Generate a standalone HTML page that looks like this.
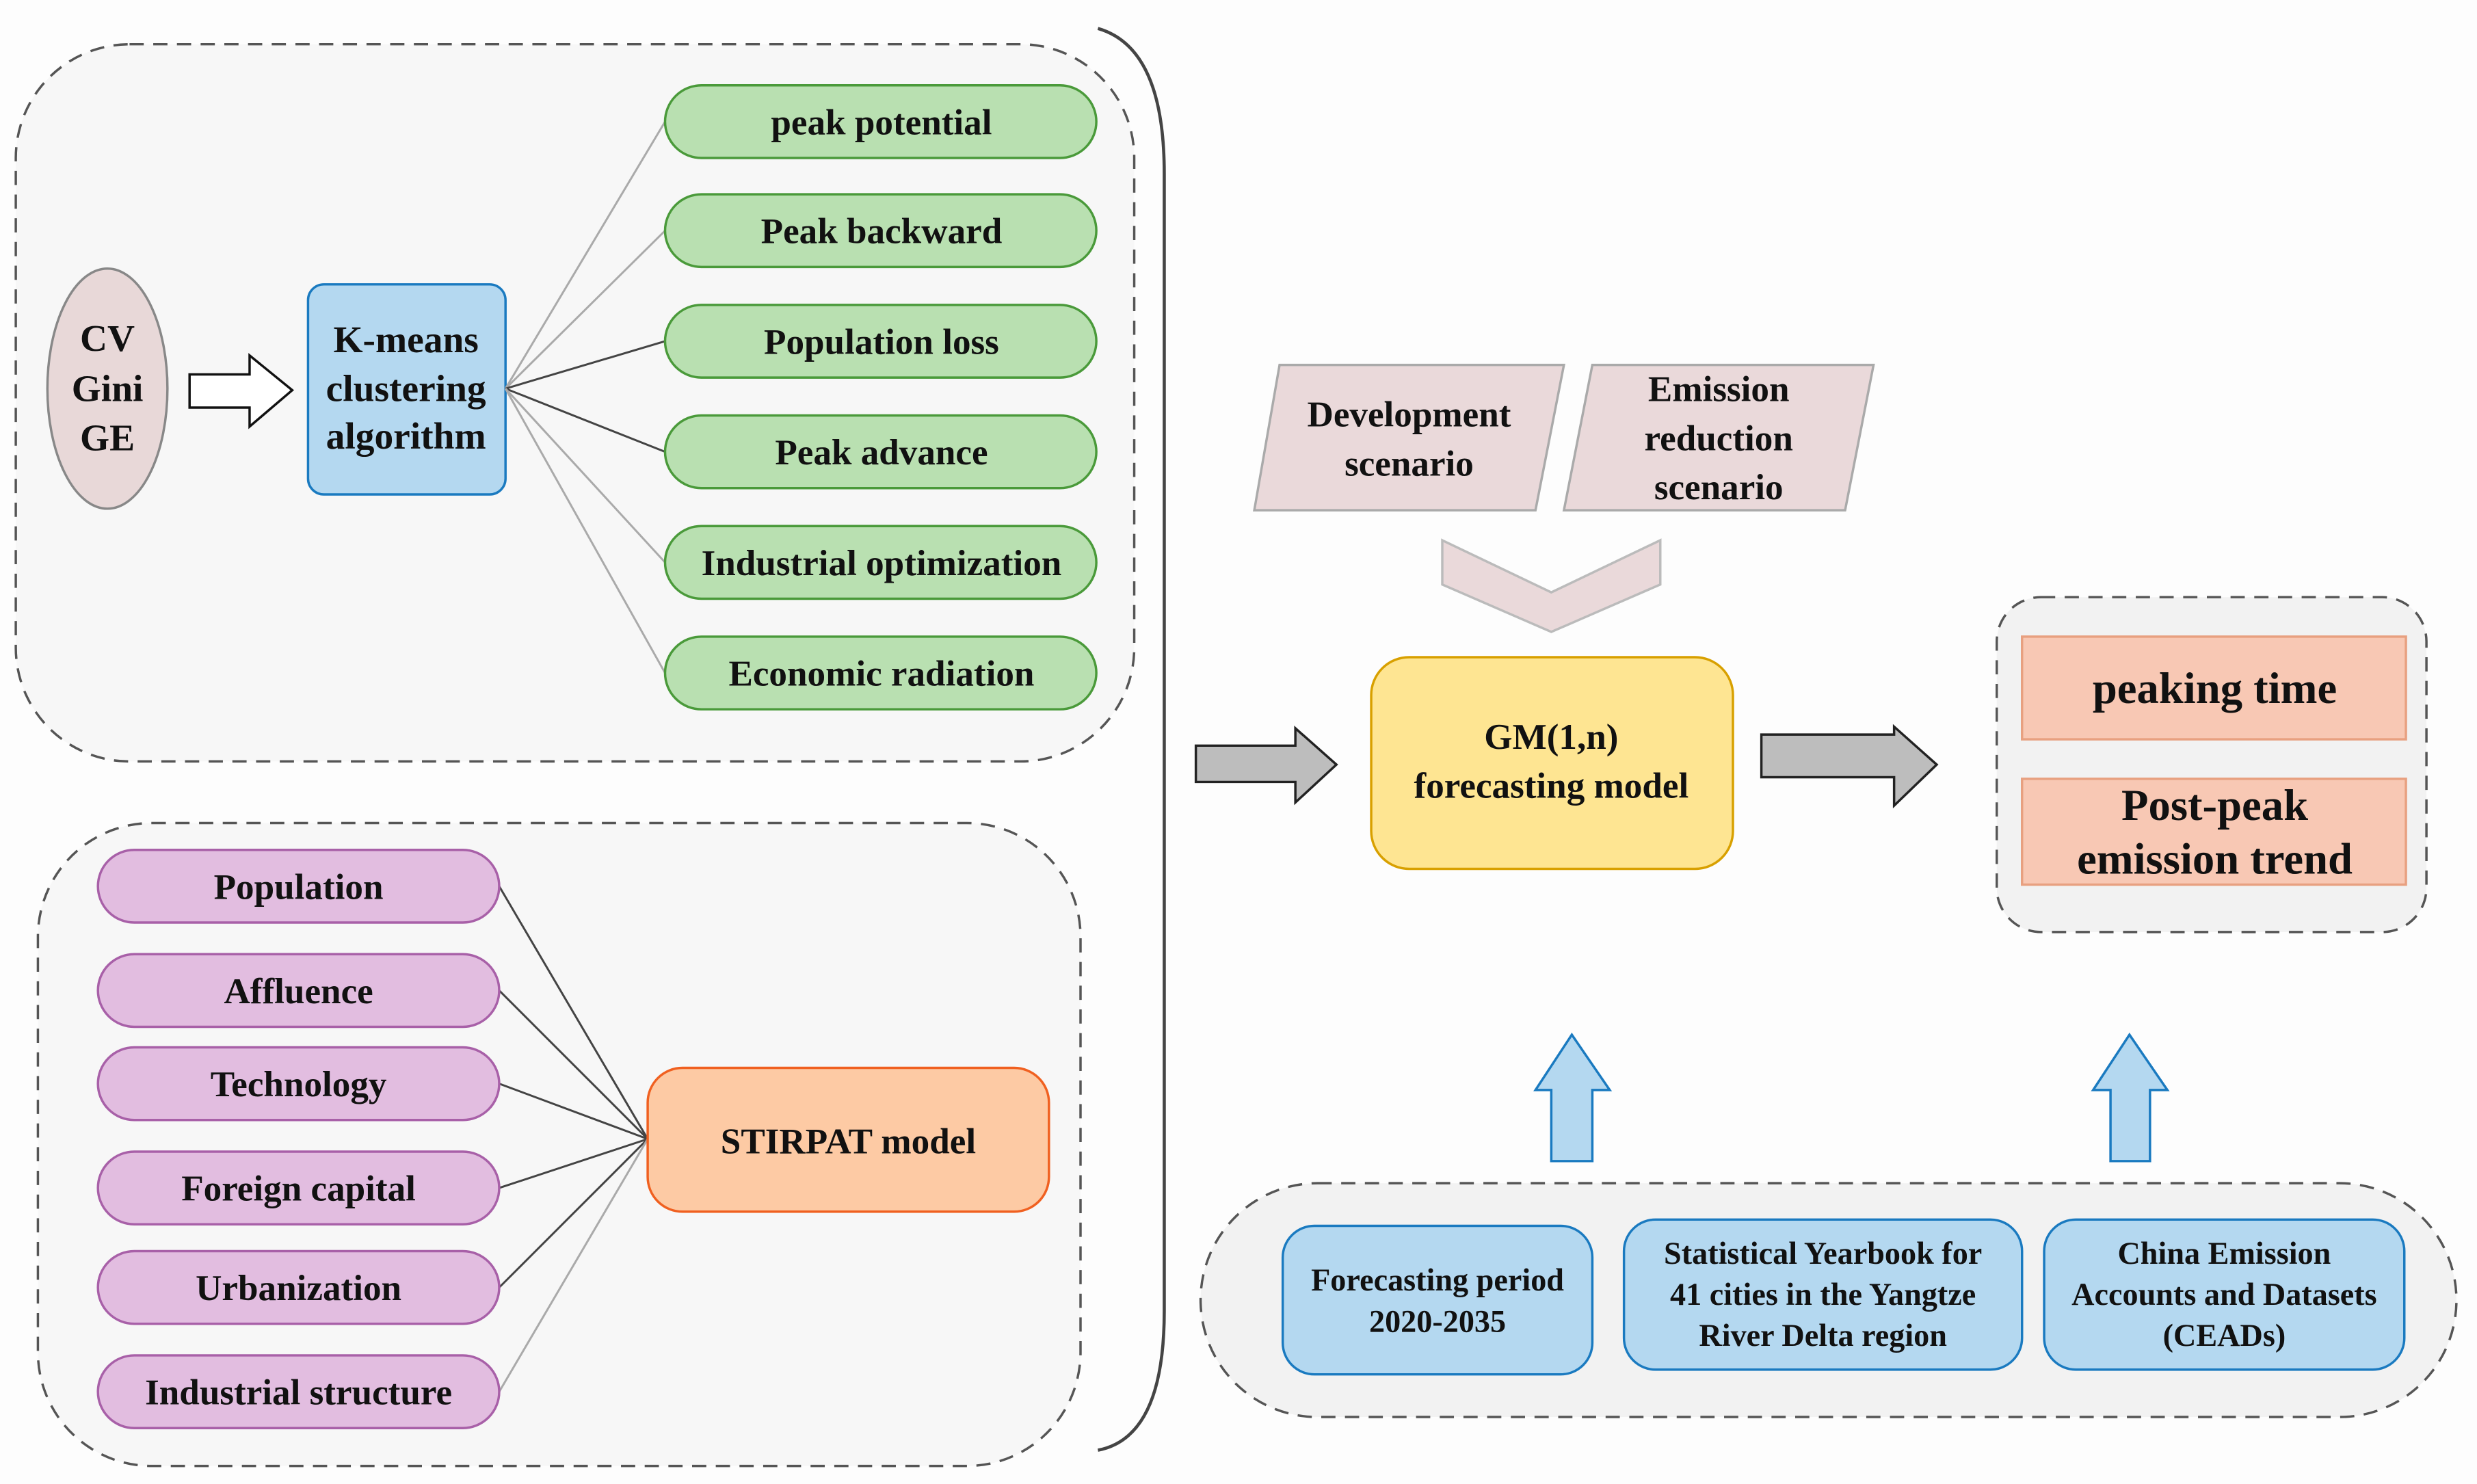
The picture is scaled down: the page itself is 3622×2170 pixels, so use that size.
<!DOCTYPE html>
<html><head><meta charset="utf-8"><style>
html,body{margin:0;padding:0;background:#fff}
svg{display:block}
svg text{font-family:'Liberation Serif','Times New Roman',Times,'DejaVu Serif',serif !important;font-weight:bold;fill:#111;text-anchor:middle}
</style></head><body>
<svg width="3622" height="2170" viewBox="0 0 1568 939.4" xmlns="http://www.w3.org/2000/svg" font-family="Liberation Serif, Times New Roman, serif">
<rect x="0" y="0" width="1568" height="940" fill="#fdfdfd"/>
<rect x="10" y="28" width="708" height="454" rx="72" fill="#f7f7f7" stroke="#555" stroke-width="1.5" stroke-dasharray="9,6"/>
<rect x="24" y="521" width="660" height="407" rx="72" fill="#f7f7f7" stroke="#555" stroke-width="1.5" stroke-dasharray="9,6"/>
<path d="M695,18 Q737,30 737,110 L737,830 Q737,910 695,918" fill="none" stroke="#444" stroke-width="2"/>
<ellipse cx="68" cy="246" rx="38" ry="76" fill="#e8d8d8" stroke="#888" stroke-width="1.5"/>
<g font-family="Liberation Serif, serif">
<text x="68" y="222" font-size="24">CV</text>
<text x="68" y="254" font-size="24">Gini</text>
<text x="68" y="285" font-size="24">GE</text>
</g>
<polygon points="120,237 158,237 158,225 185,247 158,270 158,258 120,258" fill="#fff" stroke="#111" stroke-width="1.5"/>
<rect x="195" y="180" width="125" height="133" rx="10" fill="#b4d8f0" stroke="#1a7ac0" stroke-width="1.5"/>
<g font-family="Liberation Serif, serif">
<text x="257" y="223" font-size="24">K-means</text>
<text x="257" y="254" font-size="24">clustering</text>
<text x="257" y="284" font-size="24">algorithm</text>
</g>
<g stroke-width="1.3">
<line x1="320" y1="246" x2="421" y2="77" stroke="#aaa"/>
<line x1="320" y1="246" x2="421" y2="146" stroke="#aaa"/>
<line x1="320" y1="246" x2="421" y2="216" stroke="#444"/>
<line x1="320" y1="246" x2="421" y2="286" stroke="#444"/>
<line x1="320" y1="246" x2="421" y2="356" stroke="#aaa"/>
<line x1="320" y1="246" x2="421" y2="426" stroke="#aaa"/>
</g>
<g fill="#b9e0b1" stroke="#4a9a3a" stroke-width="1.5">
<rect x="421" y="54" width="273" height="46" rx="23"/>
<rect x="421" y="123" width="273" height="46" rx="23"/>
<rect x="421" y="193" width="273" height="46" rx="23"/>
<rect x="421" y="263" width="273" height="46" rx="23"/>
<rect x="421" y="333" width="273" height="46" rx="23"/>
<rect x="421" y="403" width="273" height="46" rx="23"/>
</g>
<g font-size="23" font-family="Liberation Serif, serif">
<text x="558" y="85">peak potential</text>
<text x="558" y="154">Peak backward</text>
<text x="558" y="224">Population loss</text>
<text x="558" y="294">Peak advance</text>
<text x="558" y="364">Industrial optimization</text>
<text x="558" y="434">Economic radiation</text>
</g>
<g stroke="#444" stroke-width="1.3">
<line x1="316" y1="561" x2="410" y2="721"/>
<line x1="316" y1="627" x2="410" y2="721"/>
<line x1="316" y1="686" x2="410" y2="721"/>
<line x1="316" y1="752" x2="410" y2="721"/>
<line x1="316" y1="815" x2="410" y2="721"/>
<line x1="316" y1="881" x2="410" y2="721" stroke="#aaa"/>
</g>
<g fill="#e2bde0" stroke="#a860a8" stroke-width="1.5">
<rect x="62" y="538" width="254" height="46" rx="23"/>
<rect x="62" y="604" width="254" height="46" rx="23"/>
<rect x="62" y="663" width="254" height="46" rx="23"/>
<rect x="62" y="729" width="254" height="46" rx="23"/>
<rect x="62" y="792" width="254" height="46" rx="23"/>
<rect x="62" y="858" width="254" height="46" rx="23"/>
</g>
<g font-size="23" font-family="Liberation Serif, serif">
<text x="189" y="569">Population</text>
<text x="189" y="635">Affluence</text>
<text x="189" y="694">Technology</text>
<text x="189" y="760">Foreign capital</text>
<text x="189" y="823">Urbanization</text>
<text x="189" y="889">Industrial structure</text>
</g>
<rect x="410" y="676" width="254" height="91" rx="22" fill="#fdcaa4" stroke="#f06020" stroke-width="1.5"/>
<text x="537" y="730" font-size="23" font-family="Liberation Serif, serif">STIRPAT model</text>
<polygon points="810,231 990,231 972,323 794,323" fill="#ead9da" stroke="#aaa" stroke-width="1.5"/>
<g font-size="23" font-family="Liberation Serif, serif">
<text x="892" y="270">Development</text>
<text x="892" y="301">scenario</text>
</g>
<polygon points="1008,231 1186,231 1168,323 990,323" fill="#ead9da" stroke="#aaa" stroke-width="1.5"/>
<g font-size="23" font-family="Liberation Serif, serif">
<text x="1088" y="254">Emission</text>
<text x="1088" y="285">reduction</text>
<text x="1088" y="316">scenario</text>
</g>
<polygon points="913,342 982,375 1051,342 1051,370 982,400 913,370" fill="#ead9da" stroke="#bbb" stroke-width="1.5"/>
<polygon points="757,472 820,472 820,461 846,484 820,508 820,495 757,495" fill="#bdbdbd" stroke="#222" stroke-width="1.5"/>
<polygon points="1115,465 1199,465 1199,460 1226,484 1199,510 1199,492 1115,492" fill="#bdbdbd" stroke="#222" stroke-width="1.5"/>
<rect x="868" y="416" width="229" height="134" rx="24" fill="#fee592" stroke="#d8a000" stroke-width="1.5"/>
<g font-size="23" font-family="Liberation Serif, serif">
<text x="982" y="474">GM(1,n)</text>
<text x="982" y="505">forecasting model</text>
</g>
<rect x="1264" y="378" width="272" height="212" rx="28" fill="#f2f2f2" stroke="#555" stroke-width="1.5" stroke-dasharray="9,6"/>
<rect x="1280" y="403" width="243" height="65" fill="#f8c8b4" stroke="#e8a080" stroke-width="1.5"/>
<rect x="1280" y="493" width="243" height="67" fill="#f8c8b4" stroke="#e8a080" stroke-width="1.5"/>
<g font-size="28" font-family="Liberation Serif, serif">
<text x="1402" y="445">peaking time</text>
<text x="1402" y="519">Post-peak</text>
<text x="1402" y="553">emission trend</text>
</g>
<polygon points="995,655 1019,690 1008,690 1008,735 982,735 982,690 972,690" fill="#b4d8f0" stroke="#1a7ac0" stroke-width="1.5"/>
<polygon points="1348,655 1372,690 1361,690 1361,735 1336,735 1336,690 1325,690" fill="#b4d8f0" stroke="#1a7ac0" stroke-width="1.5"/>
<rect x="760" y="749" width="795" height="148" rx="74" fill="#f2f2f2" stroke="#555" stroke-width="1.5" stroke-dasharray="9,6"/>
<g fill="#b4d8f0" stroke="#1a7ac0" stroke-width="1.5">
<rect x="812" y="776" width="196" height="94" rx="20"/>
<rect x="1028" y="772" width="252" height="95" rx="20"/>
<rect x="1294" y="772" width="228" height="95" rx="20"/>
</g>
<g font-size="20" font-family="Liberation Serif, serif">
<text x="910" y="817">Forecasting period</text>
<text x="910" y="843">2020-2035</text>
<text x="1154" y="800">Statistical Yearbook for</text>
<text x="1154" y="826">41 cities in the Yangtze</text>
<text x="1154" y="852">River Delta region</text>
<text x="1408" y="800">China Emission</text>
<text x="1408" y="826">Accounts and Datasets</text>
<text x="1408" y="852">(CEADs)</text>
</g>
</svg>
</body></html>
